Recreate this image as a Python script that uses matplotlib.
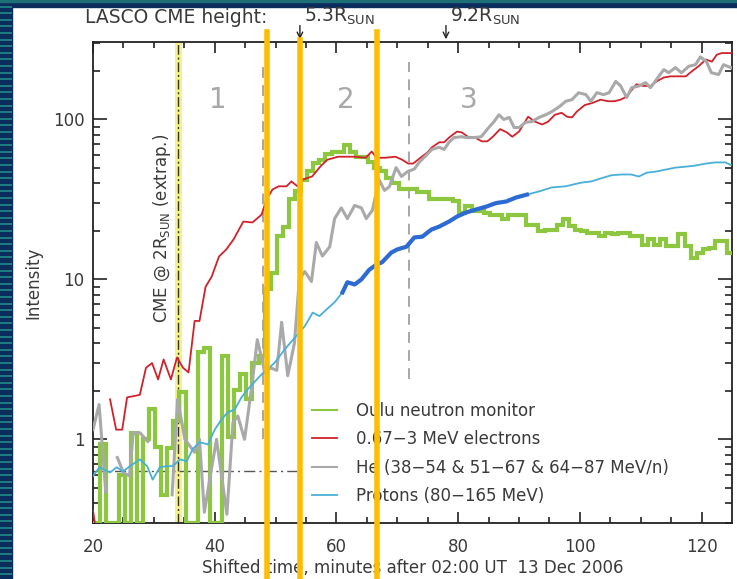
import matplotlib
matplotlib.use('Agg')
import matplotlib.pyplot as plt
import numpy as np
from matplotlib.patches import Rectangle
from matplotlib.lines import Line2D

plt.rcParams['font.family'] = ['DejaVu Sans']
plt.rcParams['mathtext.fontset'] = 'dejavusans'

# ---- data (minutes after 02:00 UT, intensity) ----
LOW = 0.3  # bins that fall below the plot floor

# Oulu neutron monitor, 1-minute bins
green_v = [LOW, 0.93, LOW, LOW, 0.6, LOW, 1.1, LOW, 1.0, 1.54,
           0.9, 0.45, 0.88, 1.3, 1.97, LOW, LOW, 3.5, 3.75, LOW,
           LOW, 3.3, 1.03, 2.05, 2.55, 1.78, 3.0, 3.3, 8.7, 11,
           18.6, 21.4, 31.6, 35.5, 42, 47.3, 53.6, 56, 60.5, 63,
           63, 69.5, 63, 58.5, 58.5, 54.6, 50, 47.3, 43.3, 40.3,
           36.5, 36.5, 36.5, 35, 35, 31.6, 31.6, 31.6, 31.6, 30.9,
           26.1, 28.7, 26.7, 26.7, 26.1, 25.3, 25.3, 23.7, 25.3, 25.3,
           25.3, 22.0, 22.0, 20.0, 20.5, 20.5, 22.0, 23.7, 21.6, 20.5,
           20.0, 19.6, 19.6, 18.7, 19.6, 19.1, 19.6, 19.6, 18.7, 18.7,
           16.5, 17.8, 16.5, 17.8, 16.2, 16.2, 19.1, 16.2, 13.6, 14.7,
           15.4, 15.8, 17.4, 17.4, 14.7]
green_edges = np.concatenate([[20.0], np.arange(21.2, 124.3, 1.0), [125.0]])

# 0.67-3 MeV electrons
red_t = [20, 20.6, 21.5, 22.8, 23.8, 24.8, 25.6, 26.6, 27.7, 28.7, 29.7, 30.7, 31.6,
         32.8, 33.8, 34.8, 35.7, 36.7, 37.5, 38.5, 39.5, 40.7, 41.9, 43.1, 44.7,
         46.2, 47.7, 48.5, 49.5, 50.5, 51.8, 52.6, 53.6, 54.4, 56, 57.4, 58.5,
         60.3, 63, 64.8, 65.8, 66.6, 68, 69.7, 70.8, 71.8, 72.6, 73.8, 74.9,
         75.7, 76.9, 77.7, 78.5, 79.8, 80.6, 81.6, 82.8, 83.9, 84.8, 85.7, 86.9,
         88, 88.9, 90, 91.5, 92.6, 93.8, 94.8, 95.9, 97, 97.9, 98.7, 99.5,
         100.8, 102.1, 103.4, 104.6, 105.7, 106.7, 107.7, 108.6, 109.3, 110.5,
         111.6, 112.6, 113.8, 114.9, 115.9, 117.4, 118.4, 119.5, 120.7, 121.7,
         122.5, 123.3, 124.8]
red_v = [0.36, 0.25, np.nan, 1.78, 1.15, 1.15, 1.83, 1.86, 1.9, 2.8, 3.0, 2.37, 3.16,
         2.37, 3.25, 2.8, 2.62, 5.5, 5.5, 9.0, 10.4, 13.9, 15.4, 17.8, 23.0,
         22.7, 25.4, 31.6, 36.5, 38.2, 38.2, 41, 38.2, 42, 44, 51, 56,
         58.5, 58.5, 57.6, 63, 57.6, 57.6, 58.5, 56, 53, 53, 57.6, 62,
         67, 72, 72, 77, 84, 83, 78, 77, 73, 73, 78, 87,
         83, 78, 84, 104, 97, 93, 97, 107, 110, 104, 103, 112,
         123, 127, 133, 130, 130, 133, 139, 154, 166, 162,
         162, 173, 183, 186, 186, 186, 200, 215, 237, 230,
         254, 260, 260]

# He (38-54 & 51-67 & 64-87 MeV/n)
gray_t = [20, 21, 22.1, 23, 24, 25, 26, 26.6, 27.7, 29, 31, 33, 33.9, 35.1,
          36.7, 37.5, 38.3, 39.3, 40.3, 42, 43, 43.8, 44.9, 46.1, 47, 47.9,
          48.2, 49.2, 50.2, 51, 52, 53.1, 53.9, 54.8, 55.9, 56.7, 57.7, 58.9,
          59.7, 60.8, 61.8, 63, 64.1, 64.9, 65.9, 67, 67.9, 68.7, 69.8, 70.7,
          71.6, 72.8, 73.6, 74.8, 75.7, 76.9, 77.7, 78.5, 79.3, 80.5, 81.5,
          82.6, 83.8, 84.8, 85.9, 86.7, 87.5, 88.4, 89.2, 90, 91.1, 92.1, 93.3,
          94.4, 95.4, 96.6, 97.7, 98.7, 99.8, 101, 101.8, 102.8, 103.9, 104.8,
          105.9, 106.7, 107.7, 108.5, 109.7, 110.8, 111.6, 112.6, 113.8, 114.6,
          115.7, 116.7, 117.9, 119, 119.8, 120.8, 121.6, 122.8, 123.6, 124.8]
gray_v = [1.15, 1.65, 0.47, np.nan, 0.77, 0.62, 0.59, 1.1, 1.1, 0.97, np.nan, 0.45, 1.78, 1.0,
          0.83, 1.0, 0.35, 0.6, 1.0, 0.34, 1.28, 1.4, 1.0, 2.15, 4.2, 3.0,
          2.6, 2.8, 2.7, 5.4, 2.5, 4.0, 10, 11.2, 9.7, 17, 14, 16,
          24, 28, 24, 29, 28, 24, 27, 42, 36, 38, 50, 44,
          47, 49, 54, 60, 65, 67, 65, 72, 77, 78, 77,
          77, 78, 87, 97, 107, 100, 103, 89, 89, 96, 97, 103,
          107, 112, 120, 130, 133, 147, 143, 130, 147, 143, 147,
          173, 162, 137, 158, 162, 170, 158, 178, 205, 196,
          211, 196, 215, 220, 246, 230, 196, 191, 220, 211]

# Protons (80-165 MeV)
blue_t = [20, 21.1, 22.8, 23.9, 24.9, 26.1, 27.7, 28.9, 29.8, 31, 32.1, 33.1,
          34.3, 35.4, 36.4, 37.5, 38.9, 40, 41.1, 42.1, 43.3, 44.4, 45.4, 46.6,
          47.7, 49.8, 51.5, 53.1, 54.8, 56.1, 57.2, 58.4, 59.7, 61, 61.8, 63,
          64.1, 65.4, 66.6, 67.5, 69, 70, 71.5, 72.8, 74.1, 75.6, 76.9, 78.5,
          79.8, 81.3, 83, 84.6, 86.2, 87.9, 89.5, 91.3, 93.3, 95.4, 97.7, 99,
          100.3, 101.9, 103.6, 105.2, 106.9, 108.4, 109.7, 111, 112.5, 114.1,
          115.7, 117.4, 119, 120.7, 122.3, 123.9, 124.8]
blue_v = [0.59, 0.67, 0.62, 0.67, 0.63, 0.68, 0.75, 0.68, 0.56, 0.67, 0.68, 0.68,
          0.75, 0.73, 0.87, 0.96, 0.93, 1.15, 1.33, 1.47, 1.54, 1.83, 2.05, 2.3,
          2.55, 3.0, 3.65, 4.3, 5.1, 6.2, 5.9, 6.5, 7.2, 8.3, 9.6, 9.3,
          10, 11.5, 12.4, 12.8, 14.7, 15.4, 16, 18.3, 18.5, 20.5, 21.4, 23,
          24.7, 26.2, 27.4, 28.5, 30, 30.7, 32.5, 33.9, 35.5, 37.6, 38.2, 39.3,
          40.3, 41, 43, 44.8, 45.3, 45.3, 44, 46.5, 47.2, 48.6,
          50, 50.7, 51.5, 53, 53.9, 53.9, 52]
blue_dark_range = (61, 91.3)

# reference markers
cme_t = 34            # CME @ 2 Rsun
phase_t = [48, 72]    # phase boundaries
phase_lo = [1.0, 2.4]
phase_hi = [230, 230]
phase_labels = ['1', '2', '3']
phase_label_t = [40.5, 61.6, 81.8]
base_level = 0.63
base_end = 53.5
lasco_t = [54.0, 78.0]
lasco_labels = [r'5.3R$_{\mathrm{SUN}}$', r'9.2R$_{\mathrm{SUN}}$']
orange_t = [48.6, 54.0, 66.7]
orange_top = [1.021, 1.004, 1.021]

W, H = 737, 579
fig = plt.figure(figsize=(W / 100, H / 100), dpi=100)
fig.patch.set_facecolor('white')

# slide-style border
fig.add_artist(Rectangle((0, 0), 12 / W, 1, transform=fig.transFigure,
                         color='#0b2d5e', zorder=0))
for yy in np.arange(1, H, 6.6):
    fig.add_artist(Rectangle((0, 1 - yy / H), 12 / W, 2 / H, transform=fig.transFigure,
                             color='#1d7b80', lw=0, zorder=0.5))
fig.add_artist(Rectangle((0, 1 - 7 / H), 1, 7 / H, transform=fig.transFigure,
                         color='#0b2d5e', zorder=0))
fig.add_artist(Rectangle((0, 1 - 2 / H), 1, 2 / H, transform=fig.transFigure,
                         color='#1d6f76', zorder=0.5))

ax = fig.add_axes([93 / W, 56 / H, 639 / W, 481 / H])
ax.set_yscale('log')
ax.set_xlim(20, 125)
ax.set_ylim(0.3, 305)

tc = '#3a3a3a'
# CME line
ax.axvline(cme_t, color='#f2ef6a', lw=5, alpha=0.8, zorder=1)
ax.axvline(cme_t, color='#333333', lw=1, ls=(0, (7, 2, 1.5, 2)), zorder=2)

for t, lo, hi in zip(phase_t, phase_lo, phase_hi):
    ax.plot([t, t], [lo, hi], color='#a0a0a0', lw=1.3, ls=(0, (6, 4)), zorder=1)
for lab, t in zip(phase_labels, phase_label_t):
    ax.text(t, 133, lab, color='#a8a8a8', fontsize=20, ha='center', va='center')

ax.plot([20, base_end], [base_level, base_level], color='#555555', lw=1,
        ls=(0, (8, 3, 1.5, 3)), zorder=1)

ax.stairs(green_v, green_edges, color='#8dc63f', lw=3, zorder=3, baseline=None)
ax.plot(red_t, red_v, color='#d0222a', lw=1.3, zorder=4)
ax.plot(gray_t, gray_v, color='#a9a9a9', lw=2.2, zorder=4)
ax.plot(blue_t, blue_v, color='#48b0d8', lw=1.3, zorder=5)
bt = np.array(blue_t)
bv = np.array(blue_v)
m = (bt >= blue_dark_range[0]) & (bt <= blue_dark_range[1])
ax.plot(bt[m], bv[m], color='#2c6bd4', lw=3, zorder=6)

ax.text(31.3, 21, r'CME @ 2R$_{\mathrm{SUN}}$ (extrap.)', rotation=90, ha='center',
        va='center', fontsize=12, color=tc)

# top annotations
ax.text(18.7, 1.031, 'LASCO CME height:', transform=ax.get_xaxis_transform(),
        ha='left', va='bottom', fontsize=13.5, color=tc, clip_on=False)
for t, lab in zip(lasco_t, lasco_labels):
    ax.annotate('', xy=(t, 1.0), xytext=(t, 1.04), xycoords=ax.get_xaxis_transform(),
                textcoords=ax.get_xaxis_transform(),
                arrowprops=dict(arrowstyle='->', color='#222222', lw=1))
    ax.text(t + 0.7, 1.031, lab, transform=ax.get_xaxis_transform(), ha='left',
            va='bottom', fontsize=13.5, color=tc, clip_on=False)

# overlay marker lines
for t, top in zip(orange_t, orange_top):
    ax.axvline(t, ymin=-0.12, ymax=top, color='#ffbd00', lw=4, clip_on=False, zorder=10)

handles = [Line2D([], [], color='#8dc63f', lw=1.5),
           Line2D([], [], color='#d0222a', lw=1.3),
           Line2D([], [], color='#a9a9a9', lw=1.5),
           Line2D([], [], color='#48b0d8', lw=1.3)]
labels = ['Oulu neutron monitor', '0.67\u22123 MeV electrons',
          'He (38\u221254 & 51\u221267 & 64\u221287 MeV/n)', 'Protons (80\u2212165 MeV)']
leg = ax.legend(handles, labels, loc='upper left', bbox_to_anchor=(0.343, 0.252),
                frameon=False, fontsize=12, handlelength=1.5, handletextpad=1.1,
                labelspacing=0.63, borderpad=0, borderaxespad=0)
for txt in leg.get_texts():
    txt.set_color(tc)

ax.set_xticks([20, 40, 60, 80, 100, 120])
ax.set_xticks(np.arange(25, 125, 5), minor=True)
ax.set_yticks([1, 10, 100])
ax.set_yticklabels(['1', '10', '100'])
ax.tick_params(which='both', direction='in', top=True, right=True, colors='#222222',
               labelcolor=tc, labelsize=12)
ax.tick_params(axis='x', which='major', length=8, width=1.2, pad=11)
ax.tick_params(axis='x', which='minor', length=4, width=1.2)
ax.tick_params(axis='y', which='major', length=10, width=1.2, pad=6)
ax.tick_params(axis='y', which='minor', length=5, width=1.2)
for s in ax.spines.values():
    s.set_color('#222222')
    s.set_linewidth(1.3)

ax.set_xlabel('Shifted time, minutes after 02:00 UT  13 Dec 2006', fontsize=12,
              color=tc, labelpad=2)
ax.set_ylabel('Intensity', fontsize=12, color=tc, labelpad=8)

fig.savefig('out.png', dpi=100, facecolor=fig.get_facecolor())
